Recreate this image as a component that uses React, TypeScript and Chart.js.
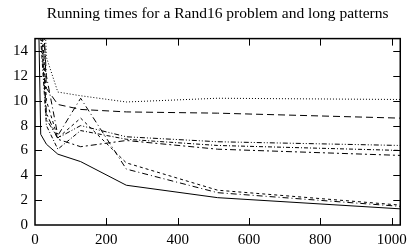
import React, { useEffect, useRef } from "react";
import Chart from "chart.js/auto";

const TITLE = "Running times for a Rand16 problem and long patterns";
const X_VALUES = [8, 16, 32, 64, 128, 256, 512, 1024];
const X_TICKS = [0, 200, 400, 600, 800, 1000];
const Y_TICKS = [0, 2, 4, 6, 8, 10, 12, 14];

const SERIES_A = [20, 7.3, 6.5, 5.7, 5.1, 3.2, 2.2, 1.3];
const SERIES_B = [40, 25, 13.5, 10.7, 10.4, 9.9, 10.2, 10.1];
const SERIES_C = [35, 22, 11, 9.7, 9.3, 9.1, 9.0, 8.6];
const SERIES_D = [30, 20, 12, 7.2, 10.2, 4.5, 2.6, 1.5];
const SERIES_E = [30, 18, 10, 7.0, 8.6, 5.0, 2.8, 1.6];
const SERIES_F = [28, 16, 8.5, 7.0, 8.0, 7.1, 6.7, 6.4];
const SERIES_G = [26, 15, 8, 6.1, 7.6, 6.9, 6.4, 6.0];
const SERIES_H = [28, 17, 9, 6.9, 6.3, 6.8, 6.1, 5.6];

const SERIES = [SERIES_A, SERIES_B, SERIES_C, SERIES_D, SERIES_E, SERIES_F, SERIES_G, SERIES_H];
const DASHES: number[][] = [
  [],
  [1, 2],
  [7, 4],
  [6, 3, 1, 3],
  [3, 3],
  [5, 2, 1, 2, 1, 2],
  [4, 2, 1, 2],
  [2, 3, 6, 3],
];

const FONT = "'Liberation Serif', 'Times New Roman', serif";

const framePlugin = {
  id: "frame",
  afterDatasetsDraw(chart: any) {
    const { ctx, chartArea, scales } = chart;
    const { left, right, top, bottom } = chartArea;
    ctx.save();
    ctx.strokeStyle = "#000";
    ctx.lineWidth = 1;
    const len = 7;
    for (const t of scales.x.ticks) {
      const px = Math.round(scales.x.getPixelForValue(t.value)) + 0.5;
      if (px <= left + 1 || px >= right - 1) continue;
      ctx.beginPath();
      ctx.moveTo(px, bottom);
      ctx.lineTo(px, bottom - len);
      ctx.moveTo(px, top);
      ctx.lineTo(px, top + len);
      ctx.stroke();
    }
    for (const t of scales.y.ticks) {
      const py = Math.round(scales.y.getPixelForValue(t.value)) + 0.5;
      if (py <= top + 1 || py >= bottom - 1) continue;
      ctx.beginPath();
      ctx.moveTo(left, py);
      ctx.lineTo(left + len, py);
      ctx.moveTo(right, py);
      ctx.lineTo(right - len, py);
      ctx.stroke();
    }
    ctx.lineWidth = 1.5;
    ctx.strokeRect(left, top, right - left, bottom - top);
    ctx.restore();
  },
};

export default function App() {
  const ref = useRef<HTMLCanvasElement>(null);
  useEffect(() => {
    if (!ref.current) return;
    const chart = new Chart(ref.current, {
      type: "line",
      data: {
        datasets: SERIES.map((s, i) => ({
          data: X_VALUES.map((x, j) => ({ x, y: s[j] })),
          borderColor: "#000",
          borderWidth: 1,
          borderDash: DASHES[i],
          pointRadius: 0,
          fill: false,
          tension: 0,
        })),
      },
      options: {
        animation: false,
        responsive: false,
        devicePixelRatio: 1,
        layout: { padding: { left: 6, right: 9, top: 0, bottom: -7 } },
        plugins: {
          legend: { display: false },
          tooltip: { enabled: false },
          title: {
            display: true,
            text: TITLE,
            fullSize: false,
            color: "#000",
            font: { family: FONT, size: 15.5, weight: "normal" },
            padding: { top: 5, bottom: 15 },
          },
        },
        scales: {
          x: {
            type: "linear",
            min: 0,
            max: 1024,
            afterBuildTicks: (scale: any) => {
              scale.ticks = X_TICKS.map((v) => ({ value: v }));
            },
            grid: { display: false, drawTicks: false },
            border: { display: false },
            ticks: {
              color: "#000",
              font: { family: FONT, size: 15 },
              padding: 6,
              maxRotation: 0,
              autoSkip: false,
              callback: (v: any) => String(v),
            },
          },
          y: {
            type: "linear",
            min: 0,
            max: 15,
            afterBuildTicks: (scale: any) => {
              scale.ticks = Y_TICKS.map((v) => ({ value: v }));
            },
            grid: { display: false, drawTicks: false },
            border: { display: false },
            ticks: {
              color: "#000",
              font: { family: FONT, size: 15 },
              padding: 7,
              autoSkip: false,
              callback: (v: any) => String(v),
            },
          },
        },
      },
      plugins: [framePlugin],
    });
    return () => chart.destroy();
  }, []);
  return (
    <div style={{ position: "absolute", left: 0, top: 0, width: 413, height: 248, background: "#fff" }}>
      <canvas ref={ref} width={413} height={248} />
    </div>
  );
}
